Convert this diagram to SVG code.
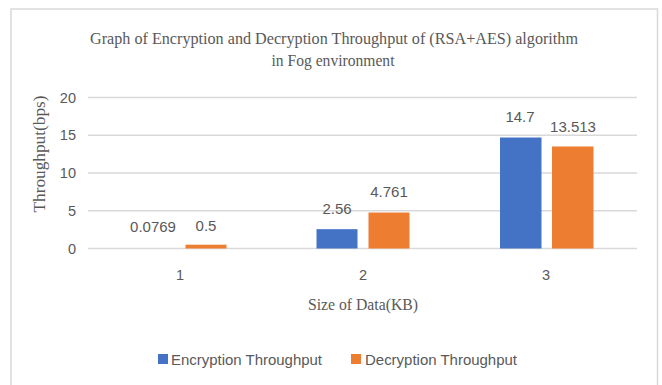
<svg xmlns="http://www.w3.org/2000/svg" width="662" height="385" viewBox="0 0 662 385">
  <style>
    .frame { fill: #ffffff; stroke: #d9d9d9; stroke-width: 1.5; }
    .grid { stroke: #d9d9d9; stroke-width: 1.3; }
    .serif { font-family: "Liberation Serif", "Times New Roman", serif; fill: #595959; }
    .sans { font-family: "Liberation Sans", Arial, sans-serif; fill: #595959; }
    .tick { font-size: 14.5px; }
    .val { font-size: 15px; text-anchor: middle; }
    .enc { fill: #4472c4; }
    .dec { fill: #ed7d31; }
  </style>
  <rect x="0" y="0" width="662" height="385" fill="#ffffff"/>
  <rect class="frame" x="11" y="9" width="646.5" height="390"/>

  <!-- chart title -->
  <g id="title" class="serif" font-size="16.5">
    <text x="334" y="44" text-anchor="middle" textLength="488" lengthAdjust="spacingAndGlyphs">Graph of Encryption and  Decryption Throughput of (RSA+AES) algorithm</text>
    <text x="333" y="66" text-anchor="middle" textLength="123" lengthAdjust="spacingAndGlyphs">in Fog environment</text>
  </g>

  <!-- value axis gridlines and labels -->
  <g id="gridlines">
    <line class="grid" x1="88" y1="97.5" x2="637" y2="97.5"/>
    <line class="grid" x1="88" y1="135.25" x2="637" y2="135.25"/>
    <line class="grid" x1="88" y1="173" x2="637" y2="173"/>
    <line class="grid" x1="88" y1="210.75" x2="637" y2="210.75"/>
    <line class="grid" x1="88" y1="248.5" x2="637" y2="248.5"/>
  </g>
  <g id="y-ticks" class="sans tick" text-anchor="end">
    <text x="76" y="102.5">20</text>
    <text x="76" y="140.25">15</text>
    <text x="76" y="178">10</text>
    <text x="76" y="215.75">5</text>
    <text x="76" y="253.5">0</text>
  </g>
  <g id="y-title" class="serif" font-size="16">
    <text transform="translate(45 154) rotate(-90)" text-anchor="middle" textLength="117" lengthAdjust="spacingAndGlyphs">Throughput(bps)</text>
  </g>

  <!-- category labels -->
  <g id="x-ticks" class="sans tick" text-anchor="middle">
    <text x="180" y="280">1</text>
    <text x="363" y="280">2</text>
    <text x="546" y="280">3</text>
  </g>
  <g id="x-title" class="serif" font-size="16">
    <text x="363" y="310" text-anchor="middle" textLength="110" lengthAdjust="spacingAndGlyphs">Size of Data(KB)</text>
  </g>

  <!-- series bars (the 0.0769 encryption bar is too short to show) -->
  <g id="bars-encryption">
    <rect class="enc" x="316.5" y="229.17" width="41" height="19.33"/>
    <rect class="enc" x="500" y="137.5" width="41.5" height="111"/>
  </g>
  <g id="bars-decryption">
    <rect class="dec" x="185.5" y="244.7" width="41" height="3.8"/>
    <rect class="dec" x="368.5" y="212.55" width="41" height="35.95"/>
    <rect class="dec" x="552" y="146.5" width="41.5" height="102"/>
  </g>

  <!-- data labels -->
  <g id="data-labels" class="sans val">
    <text x="153" y="232">0.0769</text>
    <text x="206" y="231">0.5</text>
    <text x="337" y="214">2.56</text>
    <text x="389" y="197">4.761</text>
    <text x="520" y="122">14.7</text>
    <text x="573" y="132">13.513</text>
  </g>

  <!-- legend -->
  <g id="legend" class="sans" font-size="15">
    <rect class="enc" x="158" y="354" width="10" height="10"/>
    <text x="171" y="365" textLength="151" lengthAdjust="spacingAndGlyphs">Encryption Throughput</text>
    <rect class="dec" x="351" y="354" width="10" height="10"/>
    <text x="365" y="365" textLength="152" lengthAdjust="spacingAndGlyphs">Decryption Throughput</text>
  </g>
</svg>
